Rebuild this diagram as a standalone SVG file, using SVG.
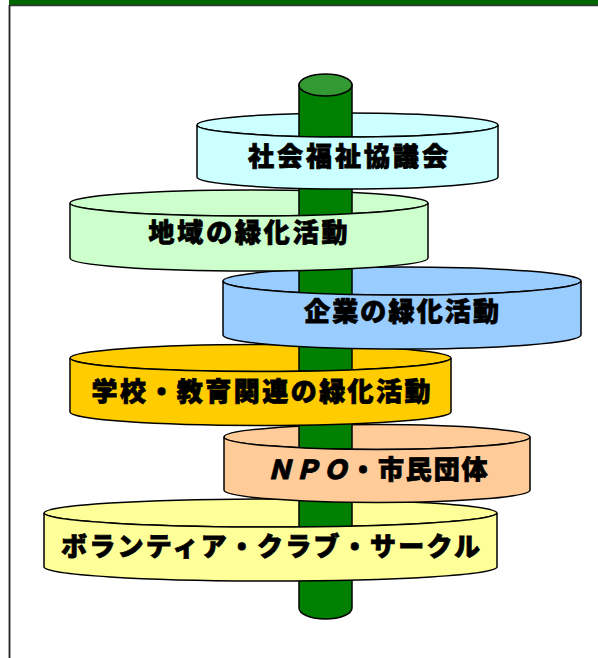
<svg xmlns="http://www.w3.org/2000/svg" width="598" height="658" viewBox="0 0 598 658">
<style>
.ol{stroke:#000;stroke-width:1.5}
.pole{fill:#008000;stroke:#000;stroke-width:1.5}
.lbl{font-family:"Noto Sans CJK JP","Noto Sans CJK SC",sans-serif;font-weight:900;font-size:26px;fill:#000;stroke:#000;stroke-width:0.8;text-anchor:middle}
</style>
<rect x="0" y="0" width="598" height="658" fill="#fff"/>
<rect x="9" y="0" width="589" height="5" fill="#006600"/>
<line x1="9" y1="5.5" x2="598" y2="5.5" stroke="#333" stroke-width="1.5"/>
<line x1="9.5" y1="5" x2="9.5" y2="658" stroke="#222" stroke-width="1.8"/>

<g id="connectors">
<path class="pole" d="M299,560 L299,608 A26.5 11 0 0 0 352,608 L352,560 Z"/>
</g>

<g id="disk6">
<ellipse class="ol" cx="270.5" cy="513" rx="226.5" ry="14" fill="#FFFF99"/>
<rect class="pole" x="299" y="437" width="53" height="90"/>
<path class="ol" fill="#FFFF99" d="M44,513 A226.5 14 0 0 0 497,513 L497,567 A226.5 14 0 0 1 44,567 Z"/>
<text class="lbl" x="270.5" y="556" textLength="419" lengthAdjust="spacing">ボランティア・クラブ・サークル</text>
</g>

<g id="disk5">
<ellipse class="ol" cx="377" cy="437" rx="153" ry="12.5" fill="#FFCC99"/>
<rect class="pole" x="299" y="358" width="53" height="91"/>
<path class="ol" fill="#FFCC99" d="M224,437 A153 12.5 0 0 0 530,437 L530,490 A153 12.5 0 0 1 224,490 Z"/>
<text class="lbl" x="377" y="479" textLength="221" lengthAdjust="spacing"><tspan font-style="italic">ＮＰＯ</tspan>・市民団体</text>
</g>

<g id="disk4">
<ellipse class="ol" cx="260.5" cy="358" rx="190.5" ry="13.5" fill="#FFCC00"/>
<rect class="pole" x="299" y="281" width="53" height="90"/>
<path class="ol" fill="#FFCC00" d="M70,358 A190.5 13.5 0 0 0 451,358 L451,412 A190.5 13.5 0 0 1 70,412 Z"/>
<text class="lbl" x="261" y="401" textLength="339" lengthAdjust="spacing">学校・教育関連の緑化活動</text>
</g>

<g id="disk3">
<ellipse class="ol" cx="402" cy="281" rx="179" ry="14" fill="#99CCFF"/>
<rect class="pole" x="299" y="203" width="53" height="92"/>
<path class="ol" fill="#99CCFF" d="M223,281 A179 14 0 0 0 581,281 L581,335 A179 14 0 0 1 223,335 Z"/>
<text class="lbl" x="401.5" y="321" textLength="195" lengthAdjust="spacing">企業の緑化活動</text>
</g>

<g id="disk2">
<ellipse class="ol" cx="249" cy="203" rx="179" ry="13" fill="#CCFFCC"/>
<rect class="pole" x="299" y="125" width="53" height="91"/>
<path class="ol" fill="#CCFFCC" d="M70,203 A179 13 0 0 0 428,203 L428,258 A179 13 0 0 1 70,258 Z"/>
<text class="lbl" x="248" y="242" textLength="199" lengthAdjust="spacing">地域の緑化活動</text>
</g>

<g id="disk1">
<ellipse class="ol" cx="347.5" cy="125" rx="150.5" ry="12" fill="#CCFFFF"/>
<rect class="pole" x="299" y="85" width="53" height="52"/>
<ellipse class="ol" cx="325.5" cy="85" rx="26.5" ry="11" fill="#339933"/>
<path class="ol" fill="#CCFFFF" d="M197,125 A150.5 12 0 0 0 498,125 L498,177 A150.5 12 0 0 1 197,177 Z"/>
<text class="lbl" x="348" y="166" textLength="200" lengthAdjust="spacing">社会福祉協議会</text>
</g>
</svg>
